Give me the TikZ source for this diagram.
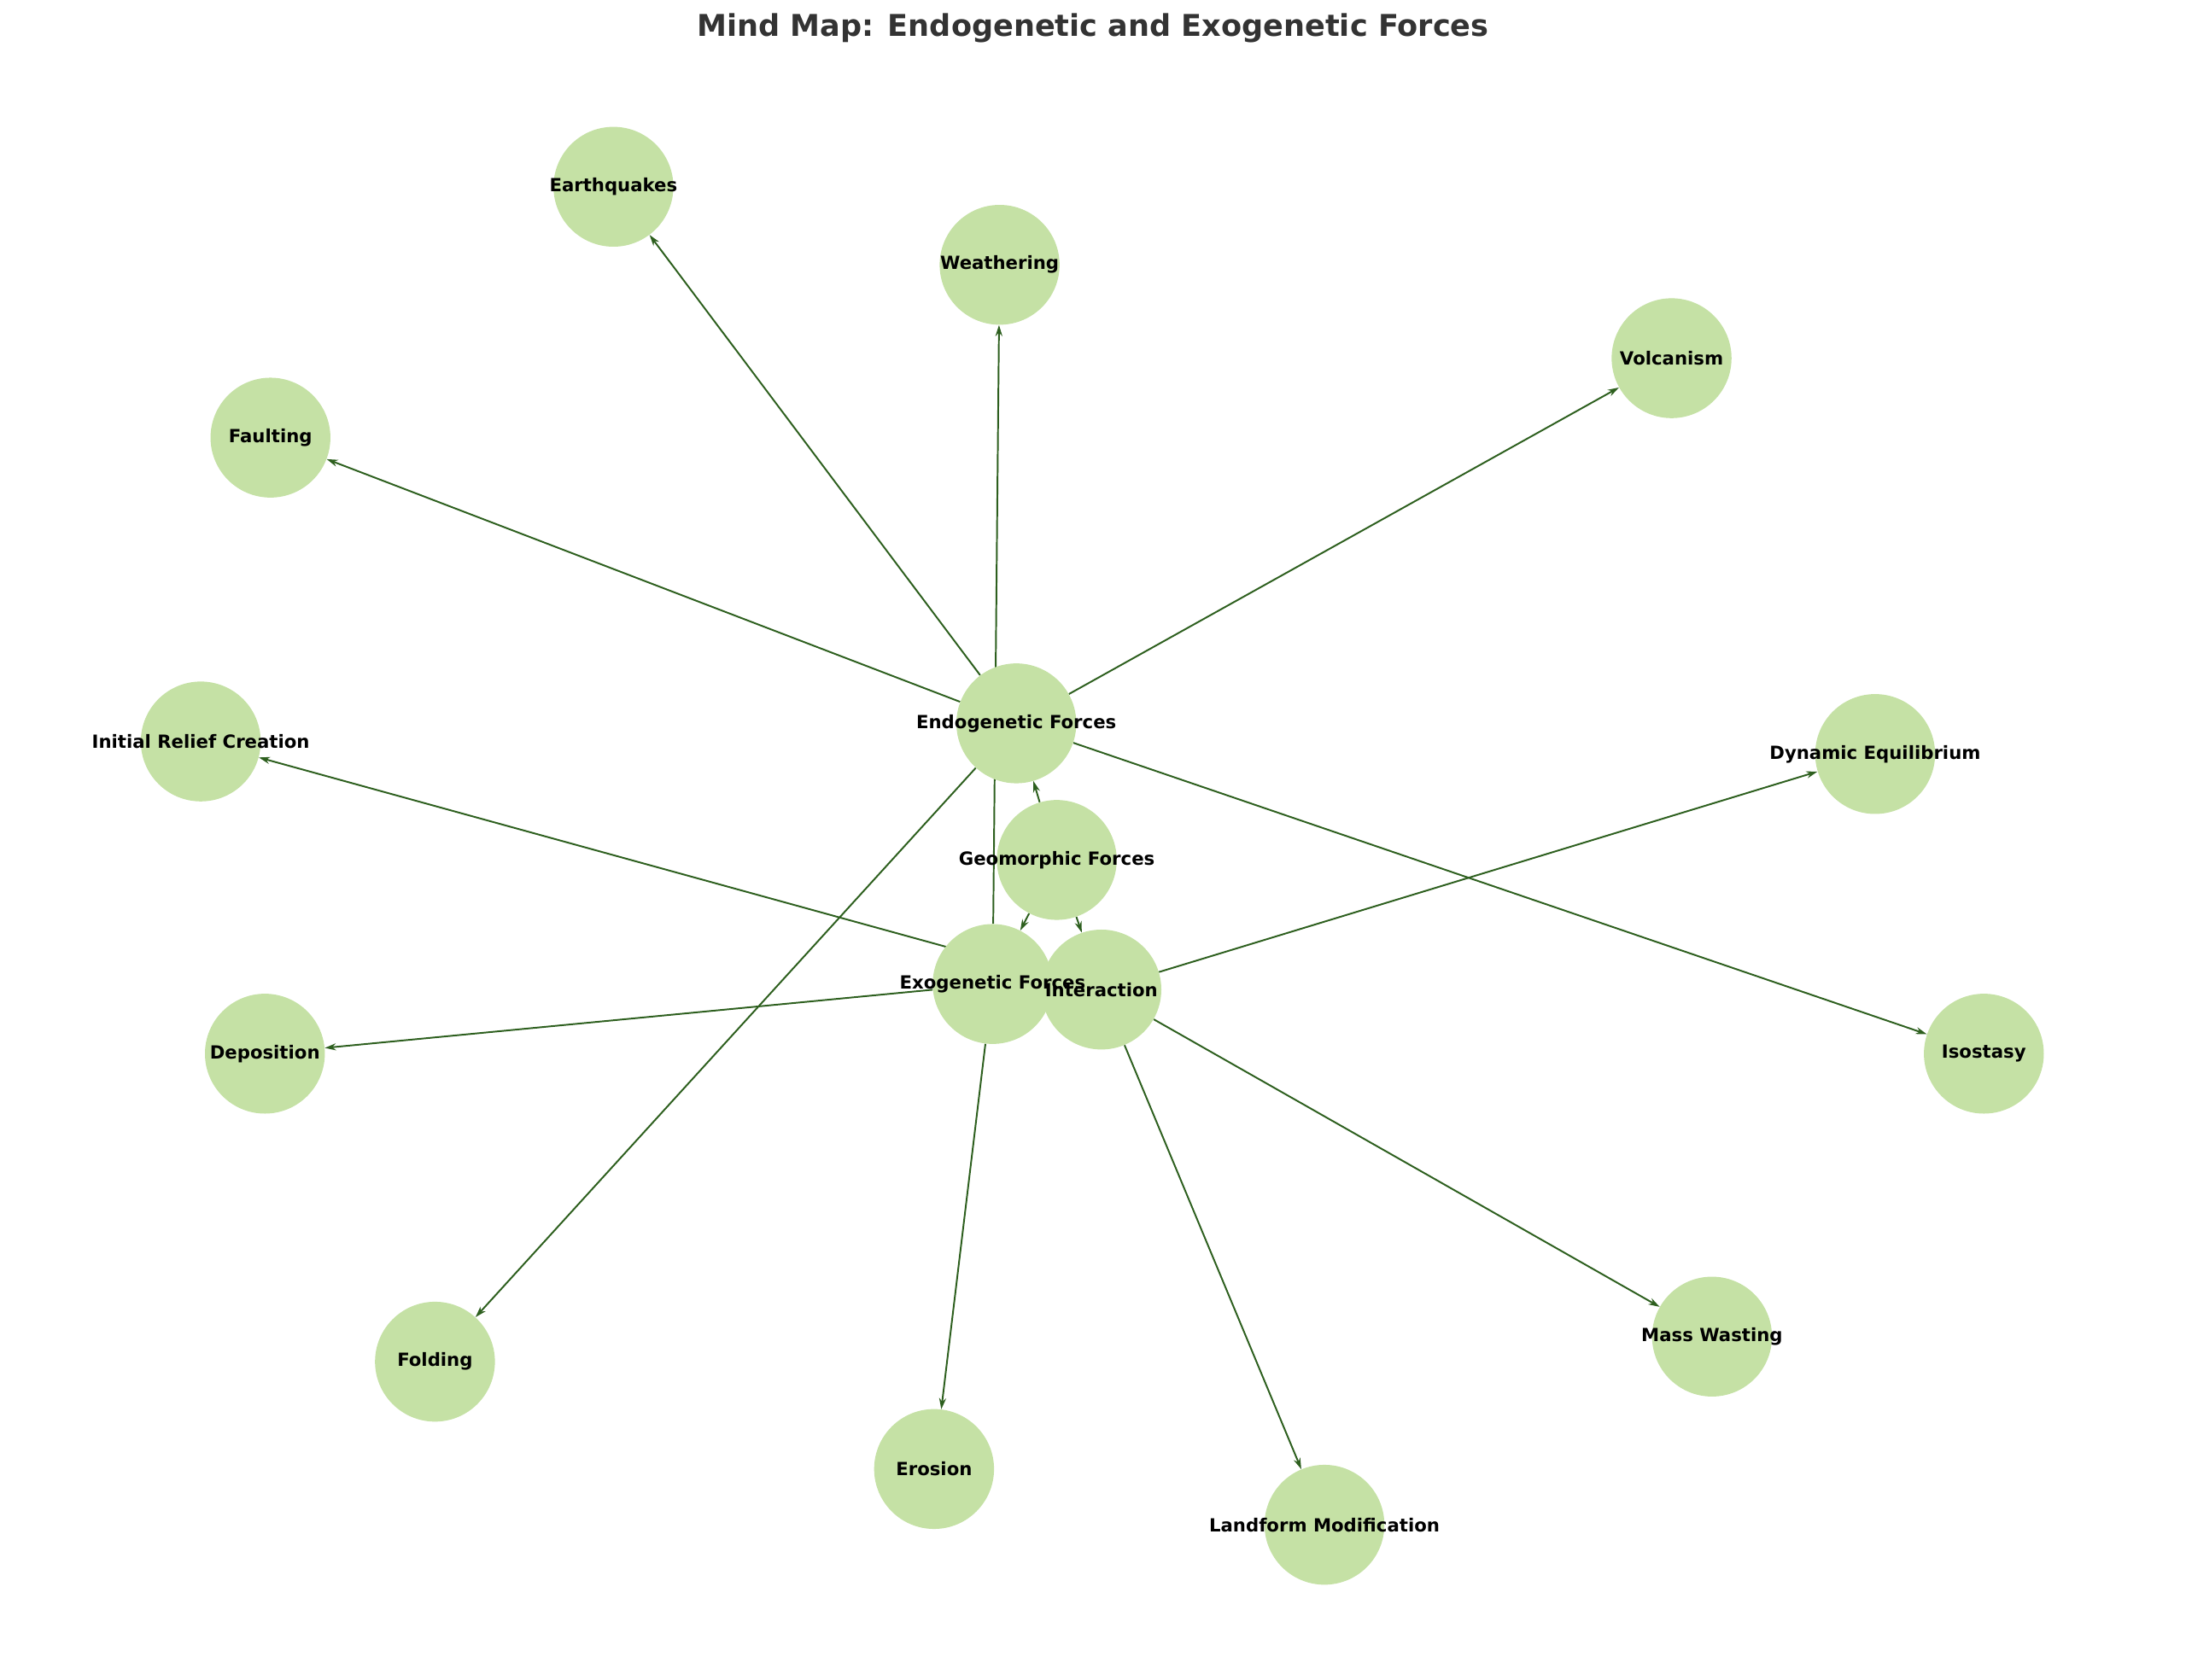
\documentclass[tikz,border=0pt]{standalone}
\usepackage{fontspec}
\setmainfont{DejaVu Sans}
\usetikzlibrary{arrows.meta}
\pgfdeclarelayer{bg}\pgfsetlayers{bg,main}
\definecolor{nodefill}{HTML}{C5E1A5}
\definecolor{edgec}{HTML}{2D5F1E}
\begin{document}
\begin{tikzpicture}[x=1pt,y=-1pt,
  nd/.style={circle,fill=nodefill,minimum size=86pt,inner sep=0pt},
  lb/.style={font=\bfseries\fontsize{13}{15}\selectfont,text=black},
  ed/.style={edgec,line width=1.2pt,-{Stealth[length=8pt,width=5pt]}}]
\useasboundingbox (0,0) rectangle (1568,1205);
\node[font=\bfseries\fontsize{21.5}{25}\selectfont,text={rgb,255:red,51;green,51;blue,51}] (title) at (784,20) {Mind Map: Endogenetic and Exogenetic Forces};
\foreach \n/\x/\y/\t in {geo/758/617/Geomorphic Forces, endo/729/519/Endogenetic Forces, exo/712/706/Exogenetic Forces, inter/790/710/Interaction, eq/440/134/Earthquakes, we/717/190/Weathering, vo/1199/257/Volcanism, fa/194/314/Faulting, irc/144/532/Initial Relief Creation, de/1345/541/Dynamic Equilibrium, dep/190/756/Deposition, iso/1423/756/Isostasy, fo/312/977/Folding, er/670/1054/Erosion, lm/950/1094/Landform Modification, mw/1228/959/Mass Wasting}
  {\node[nd] (\n) at (\x,\y) {};}
\begin{pgfonlayer}{bg}
\foreach \a/\b in {geo/endo,geo/exo,geo/inter,endo/eq,endo/fa,endo/vo,endo/iso,endo/fo,exo/we,exo/er,exo/dep,inter/irc,inter/de,inter/mw,inter/lm}
  {\draw[ed] (\a) -- (\b);}
\end{pgfonlayer}
\foreach \n/\t in {geo/Geomorphic Forces, endo/Endogenetic Forces, exo/Exogenetic Forces, inter/Interaction, eq/Earthquakes, we/Weathering, vo/Volcanism, fa/Faulting, irc/Initial Relief Creation, de/Dynamic Equilibrium, dep/Deposition, iso/Isostasy, fo/Folding, er/Erosion, lm/Landform Modification, mw/Mass Wasting}
  {\node[lb] (l\n) at (\n) {\t};}
\end{tikzpicture}
\end{document}
